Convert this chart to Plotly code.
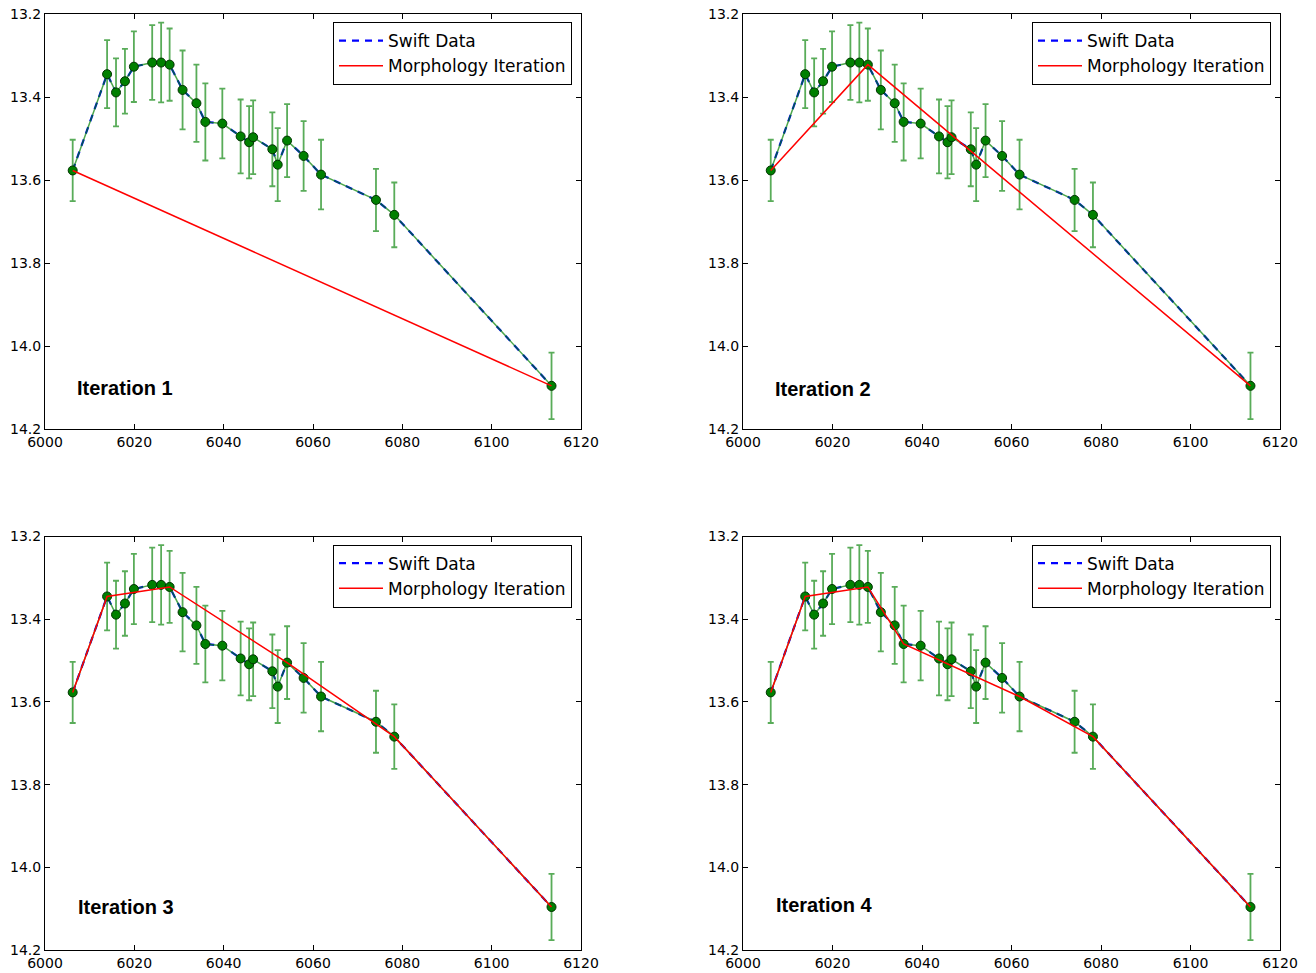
import plotly.graph_objects as go

# ---- data ----
mjd = [6006.2, 6013.9, 6015.9, 6017.9, 6019.9, 6024.0, 6026.0, 6027.9, 6030.8,
       6033.9, 6035.9, 6039.7, 6043.8, 6045.7, 6046.6, 6050.9, 6052.1, 6054.2,
       6057.9, 6061.8, 6074.1, 6078.2, 6113.4]
mag = [13.577, 13.345, 13.389, 13.362, 13.327, 13.317, 13.317, 13.322, 13.383,
       13.415, 13.460, 13.464, 13.495, 13.509, 13.497, 13.526, 13.563, 13.505,
       13.542, 13.587, 13.648, 13.684, 14.096]
mag_err = [0.074, 0.082, 0.082, 0.078, 0.085, 0.090, 0.096, 0.087, 0.095,
           0.093, 0.093, 0.084, 0.089, 0.087, 0.089, 0.089, 0.088, 0.088,
           0.084, 0.084, 0.075, 0.078, 0.080]

# vertices (indices into the data) kept by each morphology iteration
iter_idx = [
    [0, 22],
    [0, 7, 22],
    [0, 1, 7, 17, 21, 22],
    [0, 1, 7, 10, 19, 21, 22],
]
iter_labels = ["Iteration 1", "Iteration 2", "Iteration 3", "Iteration 4"]

x_ticks = [6000, 6020, 6040, 6060, 6080, 6100, 6120]
y_ticks = [13.2, 13.4, 13.6, 13.8, 14.0, 14.2]

W, H = 1316, 973
# panel pixel boxes on screen: (left, right, top, bottom)
boxes = [(45, 581, 14, 429), (743, 1280, 14, 429),
         (45, 581, 536.5, 950), (743, 1280, 536.5, 950)]
label_pos = [(75, 388), (773, 389), (76, 907), (774, 905)]


def px(v):
    return v / W


def py(v):
    return 1 - v / H


fig = go.Figure()
layout = {}
annotations = []
for k in range(4):
    n = "" if k == 0 else str(k + 1)
    xa, ya = "x" + n, "y" + n
    lg = "legend" + n
    l, r, t, b = boxes[k]
    layout["xaxis" + n] = dict(
        domain=[px(l), px(r)], anchor=ya, range=[6000, 6120], tickvals=x_ticks,
        ticks="inside", ticklen=5, tickcolor="black", showline=True, linecolor="black",
        linewidth=1, mirror="allticks", showgrid=False, zeroline=False, automargin=False,
        tickfont=dict(family="DejaVu Sans", size=14, color="black"))
    layout["yaxis" + n] = dict(
        domain=[py(b), py(t)], anchor=xa, range=[14.2, 13.2], tickvals=y_ticks,
        tickformat=".1f", ticks="inside", ticklen=5, tickcolor="black", showline=True,
        linecolor="black", linewidth=1, mirror="allticks", showgrid=False, zeroline=False,
        automargin=False,
        tickfont=dict(family="DejaVu Sans", size=14, color="black"))
    layout[lg] = dict(
        x=px(r - 9), y=py(t + 8), xanchor="right", yanchor="top",
        bgcolor="white", bordercolor="black", borderwidth=1, itemwidth=44,
        font=dict(family="DejaVu Sans", size=17, color="black"), tracegroupgap=0)

    # Swift data dashed line
    fig.add_trace(go.Scatter(
        x=mjd, y=mag, mode="lines", xaxis=xa, yaxis=ya, legend=lg,
        line=dict(color="#0000ff", width=2.2, dash="7px,6px"), name="Swift Data",
        showlegend=True))
    # error bars with markers
    fig.add_trace(go.Scatter(
        x=mjd, y=mag, mode="lines+markers", xaxis=xa, yaxis=ya, legend=lg,
        line=dict(color="rgba(0,128,0,0.7)", width=1.5),
        marker=dict(color="#008000", size=9, line=dict(color="#003300", width=1)),
        error_y=dict(type="data", array=mag_err, visible=True,
                     color="rgba(0,128,0,0.65)", thickness=1.8, width=3),
        showlegend=False))
    # morphology iteration
    idx = iter_idx[k]
    fig.add_trace(go.Scatter(
        x=[mjd[i] for i in idx], y=[mag[i] for i in idx], mode="lines",
        xaxis=xa, yaxis=ya, legend=lg, line=dict(color="#ff0000", width=1.5),
        name="Morphology Iteration", showlegend=True))

    lx, ly = label_pos[k]
    annotations.append(dict(
        x=px(lx), y=py(ly), xref="paper", yref="paper", xanchor="left",
        yanchor="middle", showarrow=False, text="<b>%s</b>" % iter_labels[k],
        font=dict(family="Liberation Sans", size=20, color="black")))

fig.update_layout(**layout)
fig.update_layout(
    width=W, height=H, margin=dict(l=0, r=0, t=0, b=0, autoexpand=False),
    paper_bgcolor="white", plot_bgcolor="white", annotations=annotations)

fig.write_html(
    "out.html",
    config={"displayModeBar": False},
    post_script="document.body.style.margin='0';document.body.style.overflow='hidden';")
